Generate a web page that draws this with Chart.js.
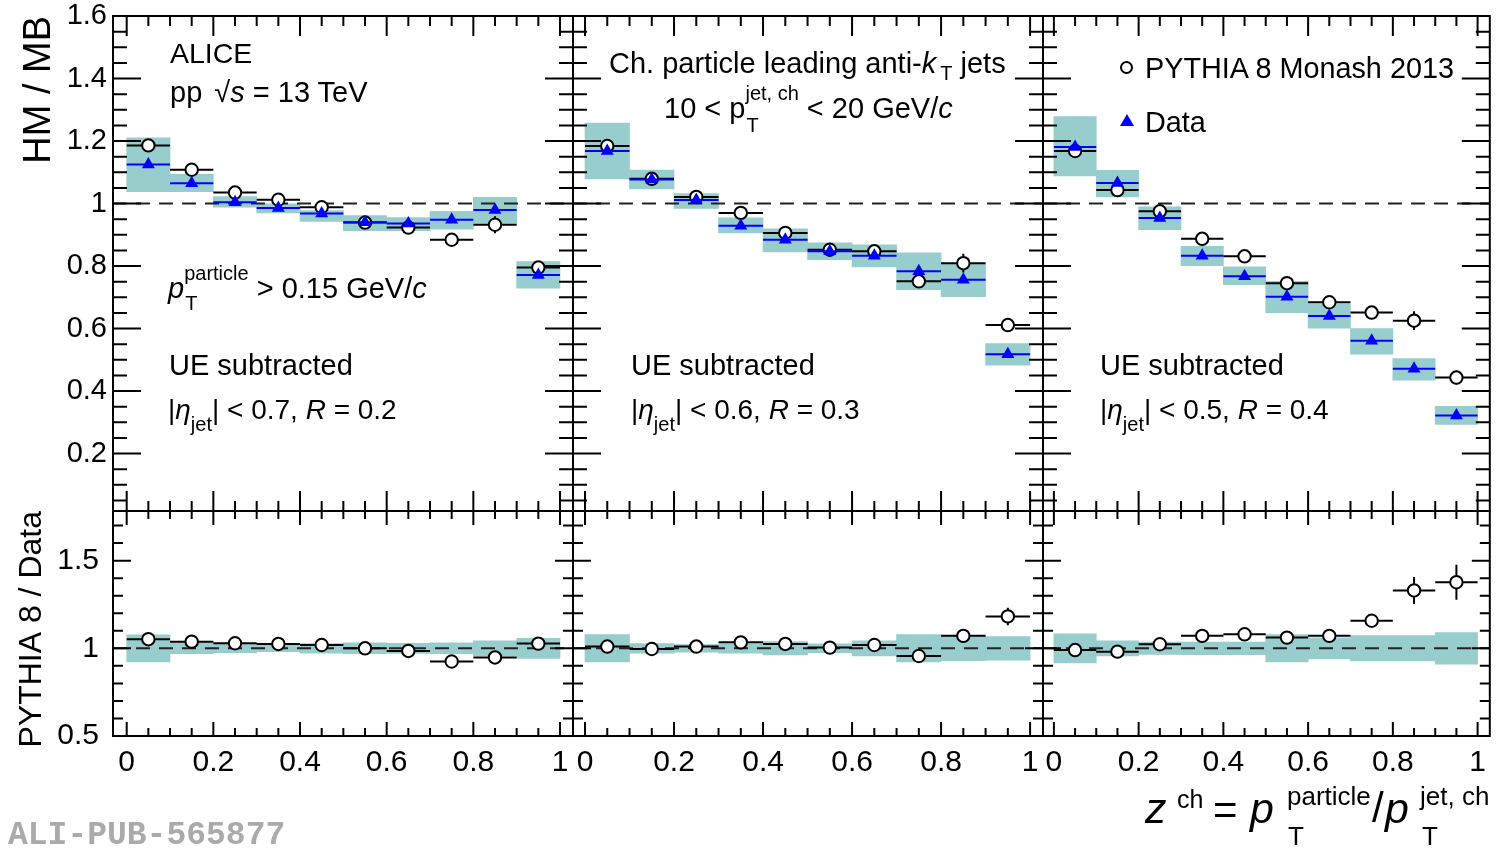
<!DOCTYPE html>
<html>
<head>
<meta charset="utf-8">
<title>HM / MB vs z</title>
<script src="https://cdn.jsdelivr.net/npm/chart.js@4.4.1/dist/chart.umd.min.js"></script>
<style>
    body { margin: 0; background: #fff; }
    #figure { position: relative; width: 1498px; height: 850px; overflow: hidden; font-family: 'Liberation Sans', Arial, sans-serif; }
    #figure canvas { position: absolute; left: 0; top: 0; }
    .lbl { position: absolute; line-height: 1; white-space: nowrap; color: #000; }
    .sup { position: relative; top: -18px; font-size: 20px; }
    .sub { position: relative; top: 12px; font-size: 20px; }
    .stk { position: relative; display: inline-block; font-size: 20px; line-height: 1; }
    .stk .sup { font-size: 20px; }
    .stk .under { position: absolute; left: 1px; top: 12px; }
    .mk-circle { position: absolute; width: 9px; height: 9px; border: 2px solid #000; border-radius: 50%; background: #fff; }
    .mk-tri { position: absolute; width: 0; height: 0; border-left: 7px solid transparent; border-right: 7px solid transparent; border-bottom: 12px solid #0000ff; }
</style>
</head>
<body>
<div id="figure">
    <canvas id="topR02" width="1498" height="850"></canvas>
    <canvas id="topR03" width="1498" height="850"></canvas>
    <canvas id="topR04" width="1498" height="850"></canvas>
    <canvas id="ratioR02" width="1498" height="850"></canvas>
    <canvas id="ratioR03" width="1498" height="850"></canvas>
    <canvas id="ratioR04" width="1498" height="850"></canvas>
</div>
<script>
// bins and ticks
const binEdges = [0, 0.1, 0.2, 0.3, 0.4, 0.5, 0.6, 0.7, 0.8, 0.9, 1.0];
const binCenters = [0.05, 0.15, 0.25, 0.35, 0.45, 0.55, 0.65, 0.75, 0.85, 0.95];
const xTicks = [0, 0.2, 0.4, 0.6, 0.8, 1];
const topYTicks = [0.2, 0.4, 0.6, 0.8, 1, 1.2, 1.4, 1.6];
const ratioYTicks = [0.5, 1, 1.5];

// R = 0.2, |eta| < 0.7
const dataR02 = [1.125, 1.065, 1.004, 0.986, 0.968, 0.940, 0.936, 0.948, 0.979, 0.771];
const sysLowR02 = [1.038, 1.038, 0.988, 0.970, 0.943, 0.913, 0.913, 0.918, 0.936, 0.729];
const sysHighR02 = [1.210, 1.093, 1.022, 0.999, 0.977, 0.961, 0.955, 0.975, 1.020, 0.814];
const pythiaR02 = [1.186, 1.108, 1.035, 1.012, 0.988, 0.939, 0.923, 0.884, 0.932, 0.795];
const pythiaErrR02 = [0.004, 0.004, 0.004, 0.004, 0.004, 0.005, 0.006, 0.008, 0.027, 0.010];
const ratioR02 = [1.052, 1.038, 1.029, 1.025, 1.019, 1.000, 0.985, 0.925, 0.948, 1.027];
const ratioErrR02 = [0.005, 0.005, 0.005, 0.005, 0.006, 0.006, 0.008, 0.010, 0.015, 0.014];
const ratioSysR02 = [0.077, 0.031, 0.025, 0.019, 0.027, 0.031, 0.029, 0.031, 0.043, 0.057];

// R = 0.3, |eta| < 0.6
const dataR03 = [1.168, 1.077, 1.011, 0.929, 0.884, 0.847, 0.833, 0.783, 0.756, 0.518];
const sysLowR03 = [1.079, 1.047, 0.984, 0.906, 0.845, 0.820, 0.797, 0.724, 0.702, 0.483];
const sysHighR03 = [1.257, 1.107, 1.032, 0.954, 0.919, 0.874, 0.868, 0.842, 0.807, 0.552];
const pythiaR03 = [1.184, 1.079, 1.021, 0.970, 0.906, 0.852, 0.847, 0.751, 0.809, 0.611];
const pythiaErrR03 = [0.005, 0.005, 0.005, 0.006, 0.007, 0.008, 0.009, 0.011, 0.030, 0.016];
const ratioR03 = [1.010, 0.996, 1.010, 1.034, 1.025, 1.004, 1.019, 0.956, 1.071, 1.182];
const ratioErrR03 = [0.006, 0.006, 0.006, 0.007, 0.008, 0.010, 0.011, 0.014, 0.015, 0.050];
const ratioSysR03 = [0.078, 0.027, 0.022, 0.027, 0.038, 0.025, 0.043, 0.078, 0.070, 0.067];

// R = 0.4, |eta| < 0.5
const dataR04 = [1.181, 1.066, 0.954, 0.833, 0.767, 0.702, 0.640, 0.561, 0.471, 0.322];
const sysLowR04 = [1.088, 1.021, 0.916, 0.801, 0.740, 0.651, 0.601, 0.518, 0.435, 0.293];
const sysHighR04 = [1.278, 1.106, 0.989, 0.863, 0.797, 0.751, 0.679, 0.600, 0.504, 0.351];
const pythiaR04 = [1.168, 1.043, 0.975, 0.887, 0.831, 0.745, 0.684, 0.651, 0.625, 0.443];
const pythiaErrR04 = [0.005, 0.005, 0.005, 0.006, 0.007, 0.008, 0.010, 0.012, 0.030, 0.022];
const ratioR04 = [0.990, 0.981, 1.023, 1.071, 1.080, 1.061, 1.071, 1.157, 1.330, 1.377];
const ratioErrR04 = [0.006, 0.006, 0.007, 0.008, 0.010, 0.012, 0.015, 0.020, 0.077, 0.100];
const ratioSysR04 = [0.083, 0.043, 0.035, 0.036, 0.036, 0.078, 0.060, 0.072, 0.072, 0.090];

const W = 1498;
const H = 850;
const teal = '#97cdcd';
const blue = '#0000ff';

Chart.defaults.font.family = "'Liberation Sans', Arial, sans-serif";
Chart.defaults.color = '#000';

const columns = [
    { index: 0, left: 113, right: 573, xMin: -0.0316, xMax: 1.030 },
    { index: 1, left: 573, right: 1043, xMin: -0.027, xMax: 1.029 },
    { index: 2, left: 1043, right: 1494, xMin: -0.0257, xMax: 1.0288 },
];

const rowTop = {
    name: 'top', top: 16, bottom: 511, yMin: 0.016, yMax: 1.6, yTicks: topYTicks,
    tickPad: 6, tickSize: 29, title: 'HM / MB', titleSize: 38, titlePad: 17,
    frame: { xMajor: 20, xMinor: 10, yStep: 0.05, yEvery: 4, yMajor: 28, yMinor: 14 },
};
const rowRatio = {
    name: 'ratio', top: 511, bottom: 736, yMin: 0.5, yMax: 1.783, yTicks: ratioYTicks,
    tickPad: 14, tickSize: 30, title: 'PYTHIA 8 / Data', titleSize: 32, titlePad: 13,
    frame: { xMajor: 14, xMinor: 8, yStep: 0.1, yEvery: 5, yMajor: 18, yMinor: 10 },
};

// ROOT-like frame with inward ticks on all four sides
const framePlugin = {
    id: 'frame',
    afterDraw(chart, args, o) {
        const { ctx, chartArea: a, scales: { x, y } } = chart;
        ctx.save();
        ctx.strokeStyle = '#000';
        ctx.lineWidth = 2;
        ctx.beginPath();
        for (let k = 0; k <= 20; k++) {
            const px = x.getPixelForValue(k * 0.05);
            const len = k % 4 === 0 ? o.xMajor : o.xMinor;
            ctx.moveTo(px, a.bottom); ctx.lineTo(px, a.bottom - len);
            ctx.moveTo(px, a.top); ctx.lineTo(px, a.top + len);
        }
        const k0 = Math.ceil(y.min / o.yStep - 1e-6);
        const k1 = Math.floor(y.max / o.yStep + 1e-6);
        for (let k = k0; k <= k1; k++) {
            const py = y.getPixelForValue(k * o.yStep);
            const len = k % o.yEvery === 0 ? o.yMajor : o.yMinor;
            ctx.moveTo(a.left, py); ctx.lineTo(a.left + len, py);
            ctx.moveTo(a.right, py); ctx.lineTo(a.right - len, py);
        }
        ctx.stroke();
        ctx.strokeRect(a.left, a.top, a.right - a.left, a.bottom - a.top);
        ctx.restore();
    },
};

function sysBoxes(lo, hi) {
    return {
        type: 'bar',
        data: binCenters.map((c, i) => ({ x: c, y: [lo[i], hi[i]] })),
        backgroundColor: teal, borderWidth: 0,
        barPercentage: 1, categoryPercentage: 1, order: 10,
    };
}

function unity(col) {
    return {
        type: 'line',
        data: [{ x: col.xMin, y: 1 }, { x: col.xMax, y: 1 }],
        borderColor: '#222', borderWidth: 2, borderDash: [14, 9], pointRadius: 0, order: 9,
    };
}

function binLines(vals, color, order) {
    const pts = [];
    vals.forEach((v, i) => {
        pts.push({ x: binEdges[i], y: v }, { x: binEdges[i + 1], y: v }, { x: binCenters[i], y: null });
    });
    return { type: 'line', data: pts, borderColor: color, borderWidth: 2, pointRadius: 0, spanGaps: false, order };
}

function errLines(vals, errs, order) {
    const pts = [];
    vals.forEach((v, i) => {
        pts.push({ x: binCenters[i], y: v - errs[i] }, { x: binCenters[i], y: v + errs[i] }, { x: binCenters[i], y: null });
    });
    return { type: 'line', data: pts, borderColor: '#000', borderWidth: 2, pointRadius: 0, spanGaps: false, order };
}

function circles(vals, order) {
    return {
        type: 'scatter',
        data: binCenters.map((c, i) => ({ x: c, y: vals[i] })),
        pointStyle: 'circle', pointRadius: 6.2,
        pointBackgroundColor: '#fff', pointBorderColor: '#000', pointBorderWidth: 2, order,
    };
}

function triangles(vals, order) {
    return {
        type: 'scatter',
        data: binCenters.map((c, i) => ({ x: c, y: vals[i] })),
        pointStyle: 'triangle', pointRadius: 7.5,
        pointBackgroundColor: blue, pointBorderColor: blue, pointBorderWidth: 0, order,
    };
}

function makePanel(id, col, row, datasets) {
    const showY = col.index === 0;
    const showX = row.name === 'ratio';
    return new Chart(document.getElementById(id), {
        type: 'scatter',
        data: { datasets },
        options: {
            responsive: false,
            animation: false,
            events: [],
            layout: {
                padding: {
                    left: showY ? 0 : col.left,
                    right: W - col.right,
                    top: row.top,
                    bottom: showX ? 0 : H - row.bottom,
                },
            },
            plugins: { legend: { display: false }, tooltip: { enabled: false }, frame: row.frame },
            scales: {
                x: {
                    type: 'linear', min: col.xMin, max: col.xMax, display: showX, offset: false,
                    grid: { display: false, drawTicks: false, offset: false },
                    border: { display: false },
                    afterBuildTicks: (s) => { s.ticks = xTicks.map((v) => ({ value: v })); },
                    afterFit: (s) => {
                        if (!showX) return;
                        s.height = H - row.bottom;
                        s.paddingLeft = 0;
                        s.paddingRight = 0;
                    },
                    ticks: {
                        autoSkip: false, maxRotation: 0, padding: 9, color: '#000',
                        font: { size: 30 }, callback: (v) => String(v),
                    },
                },
                y: {
                    type: 'linear', min: row.yMin, max: row.yMax, display: showY,
                    grid: { display: false, drawTicks: false },
                    border: { display: false },
                    afterBuildTicks: (s) => { s.ticks = row.yTicks.map((v) => ({ value: v })); },
                    afterFit: (s) => {
                        if (!showY) return;
                        s.width = col.left;
                        s.paddingTop = 0;
                        s.paddingBottom = 0;
                    },
                    ticks: {
                        autoSkip: false, padding: row.tickPad, color: '#000',
                        font: { size: row.tickSize }, callback: (v) => String(v),
                    },
                    title: {
                        display: true, text: row.title, align: 'end', color: '#000',
                        font: { size: row.titleSize }, padding: { top: row.titlePad, bottom: 0 },
                    },
                },
            },
        },
        plugins: [framePlugin],
    });
}

function topSets(col, data, lo, hi, py, pyErr) {
    return [
        sysBoxes(lo, hi),
        unity(col),
        binLines(py, '#000', 8),
        errLines(py, pyErr, 7),
        circles(py, 6),
        binLines(data, blue, 5),
        triangles(data, 4),
    ];
}

function ratioSets(col, ratio, err, sys) {
    return [
        sysBoxes(sys.map((s) => 1 - s), sys.map((s) => 1 + s)),
        unity(col),
        binLines(ratio, '#000', 8),
        errLines(ratio, err, 7),
        circles(ratio, 6),
    ];
}

makePanel('topR02', columns[0], rowTop, topSets(columns[0], dataR02, sysLowR02, sysHighR02, pythiaR02, pythiaErrR02));
makePanel('topR03', columns[1], rowTop, topSets(columns[1], dataR03, sysLowR03, sysHighR03, pythiaR03, pythiaErrR03));
makePanel('topR04', columns[2], rowTop, topSets(columns[2], dataR04, sysLowR04, sysHighR04, pythiaR04, pythiaErrR04));
makePanel('ratioR02', columns[0], rowRatio, ratioSets(columns[0], ratioR02, ratioErrR02, ratioSysR02));
makePanel('ratioR03', columns[1], rowRatio, ratioSets(columns[1], ratioR03, ratioErrR03, ratioSysR03));
makePanel('ratioR04', columns[2], rowRatio, ratioSets(columns[2], ratioR04, ratioErrR04, ratioSysR04));

// text annotations, positioned by baseline
const figure = document.getElementById('figure');

function place(html, x, base, size, style) {
    const el = document.createElement('div');
    el.className = 'lbl';
    el.innerHTML = html;
    el.style.left = x + 'px';
    el.style.top = (base - 0.8465 * size).toFixed(1) + 'px';
    el.style.fontSize = size + 'px';
    if (style) el.style.cssText += ';' + style;
    figure.appendChild(el);
}

function marker(cls, x, y) {
    const el = document.createElement('div');
    el.className = cls;
    el.style.left = x + 'px';
    el.style.top = y + 'px';
    figure.appendChild(el);
}

place('ALICE', 170, 63, 28.5);
place('pp <span style="margin-left:4px">√</span><i>s</i> = 13 TeV', 170, 102, 29);
place('<i>p</i><span class="stk"><span class="sup">particle</span><span class="under">T</span></span> &gt; 0.15 GeV/<i>c</i>', 168, 298, 29);
place('UE subtracted', 169, 375, 29);
place('|<i>η</i><span class="sub">jet</span>| &lt; 0.7, <i>R</i> = 0.2', 168, 420, 28);

place('Ch. particle leading anti-<i>k</i><span class="sub" style="top:7px;margin-left:4px">T</span> jets', 609, 73, 29);
place('10 &lt; p<span class="stk"><span class="sup">jet, ch</span><span class="under" style="top:14px">T</span></span> &lt; 20 GeV/<i>c</i>', 664, 118, 29);
place('UE subtracted', 631, 375, 29);
place('|<i>η</i><span class="sub">jet</span>| &lt; 0.6, <i>R</i> = 0.3', 631, 420, 28);

marker('mk-circle', 1119.5, 60.5);
place('PYTHIA 8 Monash 2013', 1145, 78, 28.8);
marker('mk-tri', 1119.5, 114);
place('Data', 1145, 132, 28.8);
place('UE subtracted', 1100, 375, 29);
place('|<i>η</i><span class="sub">jet</span>| &lt; 0.5, <i>R</i> = 0.4', 1100, 420, 28);

// x axis title
place('<i>z</i>', 1145, 823, 43);
place('ch', 1177, 808, 25);
place('=', 1213, 825, 42);
place('<i>p</i>', 1250, 823, 43);
place('particle', 1287, 805, 26);
place('T', 1288, 845, 26);
place('/', 1372, 823, 42);
place('<i>p</i>', 1385, 823, 43);
place('jet, ch', 1420, 805, 26);
place('T', 1422, 845, 26);

place('ALI-PUB-565877', 8, 847, 33, "font-family:'Liberation Mono',monospace;font-weight:bold;color:#aaa");
</script>
</body>
</html>
